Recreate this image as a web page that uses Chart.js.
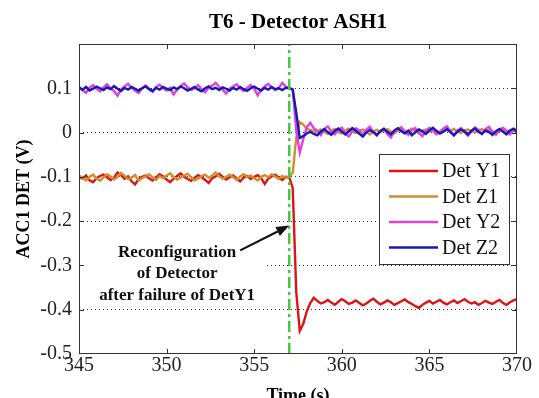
<!DOCTYPE html>
<html><head><meta charset="utf-8">
<script src="https://cdn.jsdelivr.net/npm/chart.js@4/dist/chart.umd.min.js"></script>
<style>html,body{margin:0;padding:0;background:#fff}canvas{display:block}</style>
</head><body>
<canvas id="c" width="539" height="398"></canvas>
<script>
// ---------- data ----------
const chartTitle = 'T6 - Detector ASH1';
const xTitle = 'Time (s)';
const yTitle = 'ACC1 DET (V)';
const xMin = 345, xMax = 370, xStep = 5;
const yMin = -0.5, yMax = 0.2, yStep = 0.1;
const sampleStart = 345, samplePeriod = 0.2, sampleCount = 126;
const time = Array.from({length: sampleCount}, (_, i) => Math.round((sampleStart + i * samplePeriod) * 10) / 10);

const seriesNames = ['Det Y1', 'Det Z1', 'Det Y2', 'Det Z2'];

const detY1 = [
-0.100,-0.104,-0.097,-0.108,-0.112,-0.103,-0.098,-0.095,-0.101,-0.107,
-0.102,-0.090,-0.096,-0.104,-0.099,-0.110,-0.117,-0.105,-0.100,-0.097,
-0.103,-0.108,-0.101,-0.094,-0.099,-0.106,-0.112,-0.104,-0.098,-0.092,
-0.100,-0.105,-0.109,-0.102,-0.096,-0.101,-0.107,-0.114,-0.103,-0.099,
-0.093,-0.100,-0.106,-0.101,-0.097,-0.104,-0.110,-0.102,-0.098,-0.105,
-0.100,-0.096,-0.103,-0.116,-0.104,-0.099,-0.095,-0.102,-0.107,-0.100,
-0.101,
-0.125,-0.360,-0.448,-0.432,-0.404,-0.385,-0.373,
-0.380,-0.386,-0.383,-0.378,-0.384,-0.389,-0.382,-0.376,-0.381,-0.387,
-0.384,-0.379,-0.385,-0.390,-0.386,-0.380,-0.375,-0.382,-0.388,-0.384,
-0.379,-0.383,-0.389,-0.385,-0.381,-0.377,-0.383,-0.387,-0.392,-0.396,
-0.389,-0.384,-0.380,-0.386,-0.382,-0.378,-0.384,-0.388,-0.383,-0.379,
-0.385,-0.381,-0.376,-0.382,-0.386,-0.383,-0.389,-0.385,-0.380,-0.384,
-0.387,-0.382,-0.378,-0.385,-0.389,-0.383,-0.379,-0.376];

const detZ1 = [
-0.097,-0.102,-0.108,-0.100,-0.095,-0.104,-0.109,-0.101,-0.094,-0.099,
-0.106,-0.100,-0.091,-0.098,-0.105,-0.102,-0.096,-0.108,-0.103,-0.099,
-0.094,-0.101,-0.107,-0.098,-0.103,-0.097,-0.092,-0.100,-0.106,-0.102,
-0.097,-0.093,-0.101,-0.108,-0.104,-0.098,-0.095,-0.102,-0.097,-0.090,
-0.099,-0.104,-0.100,-0.095,-0.101,-0.107,-0.099,-0.094,-0.100,-0.097,
-0.103,-0.108,-0.100,-0.096,-0.101,-0.094,-0.099,-0.105,-0.098,-0.102,
-0.100,
-0.090,-0.012,0.024,0.018,0.008,0.006,0.004,
0.003,0.007,0.002,-0.003,0.004,0.008,0.001,-0.002,0.005,0.009,
0.003,-0.001,0.004,0.007,0.002,-0.004,0.003,0.006,0.001,0.005,
0.008,0.002,-0.002,0.004,0.006,0.001,0.005,0.009,0.003,-0.001,
0.004,0.007,0.002,0.005,0.001,-0.003,0.003,0.006,0.004,0.008,
0.002,-0.001,0.005,0.007,0.003,0.000,0.004,0.008,0.002,0.006,
0.003,-0.002,0.004,0.007,0.001,0.005,0.003,0.006];

const detY2 = [
0.104,0.096,0.090,0.101,0.107,0.099,0.093,0.102,0.109,0.100,
0.094,0.083,0.098,0.104,0.110,0.101,0.095,0.089,0.100,0.106,
0.099,0.092,0.103,0.108,0.100,0.095,0.101,0.086,0.097,0.105,
0.111,0.102,0.096,0.100,0.107,0.098,0.091,0.101,0.106,0.112,
0.103,0.097,0.088,0.099,0.104,0.109,0.100,0.094,0.101,0.107,
0.099,0.084,0.097,0.104,0.110,0.102,0.096,0.101,0.112,0.104,
0.100,
0.098,0.005,-0.045,-0.015,0.012,0.022,0.010,
0.004,-0.006,0.008,0.014,0.002,-0.004,0.006,0.011,-0.002,-0.009,
0.003,0.010,0.005,-0.005,0.007,0.013,0.001,-0.007,0.004,0.009,
-0.003,-0.011,0.002,0.008,0.012,0.003,-0.005,0.006,0.010,-0.001,
-0.008,0.004,0.011,0.005,-0.004,0.002,0.009,0.014,0.003,-0.006,
0.005,0.010,0.001,-0.007,0.003,0.012,0.006,-0.003,0.008,0.013,
0.002,-0.005,0.006,0.011,0.004,-0.004,0.007,0.002];

const detZ2 = [
0.101,0.097,0.103,0.095,0.099,0.104,0.100,0.096,0.102,0.098,
0.105,0.099,0.094,0.101,0.097,0.103,0.099,0.095,0.100,0.104,
0.098,0.094,0.101,0.097,0.103,0.099,0.096,0.102,0.098,0.104,
0.100,0.095,0.099,0.103,0.097,0.093,0.100,0.104,0.098,0.101,
0.096,0.102,0.099,0.095,0.101,0.097,0.103,0.098,0.094,0.100,
0.104,0.099,0.095,0.101,0.097,0.103,0.098,0.100,0.096,0.101,
0.100,
0.097,0.045,-0.012,-0.008,-0.002,0.002,-0.003,
-0.006,0.002,0.008,0.001,-0.005,0.004,0.009,0.002,-0.004,0.003,
0.010,0.004,-0.003,-0.009,0.000,0.006,0.001,-0.005,0.003,0.008,
0.002,-0.004,0.005,0.010,0.003,-0.002,0.004,-0.006,0.001,0.007,
0.003,-0.003,0.005,0.011,0.004,-0.002,0.002,0.008,0.001,-0.006,
0.002,0.007,0.003,-0.004,0.004,0.009,0.002,-0.003,0.005,0.001,
-0.005,0.003,0.008,0.002,-0.004,0.005,0.009,0.003];

const failureTime = 357;
const annotationLines = ['Reconfiguration', 'of Detector', 'after failure of DetY1'];
const annotationAnchor = [350.6, -0.270];     // data coords of first text line centre
const arrowFrom = [354.2, -0.266];
const arrowTo = [357.0, -0.210];

// ---------- styles ----------
const serif = "'Liberation Serif', 'Times New Roman', serif";
const colors = ['#dd1414', '#cf8f2e', '#e040e0', '#1818b8'];

const mkSeries = (vals) => time.map((t, i) => ({x: t, y: vals[i]}));
const allSeries = [detY1, detZ1, detY2, detZ2];

const datasets = allSeries.map((v, k) => ({
  label: seriesNames[k], data: mkSeries(v), borderColor: colors[k],
  borderWidth: 2.4, pointRadius: 0, tension: 0, fill: false, order: 4 - k
}));
datasets.push({
  label: 'failure', data: [{x: failureTime, y: yMin}, {x: failureTime, y: yMax}],
  borderColor: '#3ccc3c', borderWidth: 2.5, borderDash: [11, 4, 3, 4],
  pointRadius: 0, order: 0
});

const decor = {
  id: 'decor',
  beforeDatasetsDraw(chart) {
    const {ctx} = chart;
    const xs = chart.scales.x, ys = chart.scales.y;
    ctx.save();
    ctx.fillStyle = '#fff';
    const cx = xs.getPixelForValue(annotationAnchor[0]);
    const cy = ys.getPixelForValue(annotationAnchor[1]);
    ctx.fillRect(cx - 90, cy - 18, 180, 70);
    ctx.restore();
  },
  afterDatasetsDraw(chart) {
    const {ctx, chartArea: a} = chart;
    const xs = chart.scales.x, ys = chart.scales.y;
    ctx.save();
    ctx.strokeStyle = '#333'; ctx.lineWidth = 1;
    ctx.strokeRect(a.left + 0.5, a.top + 0.5, a.right - a.left - 1, a.bottom - a.top - 1);
    ctx.beginPath();
    xs.ticks.forEach(t => {
      if (t.value <= xMin || t.value >= xMax) return;
      const p = Math.round(xs.getPixelForValue(t.value)) + 0.5;
      ctx.moveTo(p, a.bottom); ctx.lineTo(p, a.bottom - 5);
      ctx.moveTo(p, a.top); ctx.lineTo(p, a.top + 5);
    });
    ys.ticks.forEach(t => {
      if (t.value <= yMin + 1e-9 || t.value >= yMax - 1e-9) return;
      const p = Math.round(ys.getPixelForValue(t.value)) + 0.5;
      ctx.moveTo(a.left, p); ctx.lineTo(a.left + 5, p);
      ctx.moveTo(a.right, p); ctx.lineTo(a.right - 5, p);
    });
    ctx.stroke();

    const cx = xs.getPixelForValue(annotationAnchor[0]);
    const cy = ys.getPixelForValue(annotationAnchor[1]);
    ctx.fillStyle = '#111';
    ctx.font = 'bold 17px ' + serif;
    ctx.textAlign = 'center'; ctx.textBaseline = 'middle';
    annotationLines.forEach((s, i) => ctx.fillText(s, cx, cy + i * 21.5));

    const x0 = xs.getPixelForValue(arrowFrom[0]), y0 = ys.getPixelForValue(arrowFrom[1]);
    const x1 = xs.getPixelForValue(arrowTo[0]), y1 = ys.getPixelForValue(arrowTo[1]);
    const ang = Math.atan2(y1 - y0, x1 - x0);
    const hl = 13, hw = 5;
    const bx = x1 - hl * Math.cos(ang), by = y1 - hl * Math.sin(ang);
    ctx.strokeStyle = '#111'; ctx.lineWidth = 2.2;
    ctx.beginPath(); ctx.moveTo(x0, y0); ctx.lineTo(bx, by); ctx.stroke();
    ctx.beginPath();
    ctx.moveTo(x1, y1);
    ctx.lineTo(bx + hw * Math.sin(ang), by - hw * Math.cos(ang));
    ctx.lineTo(bx - hw * Math.sin(ang), by + hw * Math.cos(ang));
    ctx.closePath(); ctx.fillStyle = '#111'; ctx.fill();

    const lx = 379, ly = 154, lw = 130, lh = 110;
    ctx.fillStyle = '#fff';
    ctx.fillRect(lx, ly, lw, lh);
    ctx.strokeStyle = '#333'; ctx.lineWidth = 1;
    ctx.strokeRect(lx + 0.5, ly + 0.5, lw, lh);
    ctx.font = '20px ' + serif;
    ctx.textAlign = 'left'; ctx.textBaseline = 'middle';
    chart.data.datasets.slice(0, 4).forEach((ds, i) => {
      const yy = ly + 17 + i * 25.5;
      ctx.strokeStyle = ds.borderColor; ctx.lineWidth = 2.4;
      ctx.beginPath(); ctx.moveTo(lx + 10, yy); ctx.lineTo(lx + 59, yy); ctx.stroke();
      ctx.fillStyle = '#111';
      ctx.fillText(ds.label, lx + 63, yy + 1);
    });
    ctx.restore();
  },
  afterDraw(chart) {
    const {ctx, chartArea: a} = chart;
    ctx.save();
    ctx.fillStyle = '#000';
    ctx.font = 'bold 21px ' + serif;
    ctx.textAlign = 'center'; ctx.textBaseline = 'alphabetic';
    ctx.fillText(chartTitle, (a.left + a.right) / 2, 28);
    ctx.restore();
  }
};

new Chart(document.getElementById('c'), {
  type: 'line',
  data: {datasets},
  options: {
    responsive: false, animation: false, devicePixelRatio: 1,
    layout: {padding: {top: 44, right: 22, left: 0, bottom: 0}},
    plugins: {legend: {display: false}, tooltip: {enabled: false}, title: {display: false}},
    scales: {
      x: {
        type: 'linear', min: xMin, max: xMax,
        ticks: {stepSize: xStep, padding: 0, color: '#222', font: {family: serif, size: 20}, maxRotation: 0,
          callback: v => String(v)},
        grid: {display: false, drawTicks: false},
        border: {display: false},
        title: {display: true, text: xTitle, color: '#000', font: {family: serif, size: 18, weight: 'bold', lineHeight: 1}, padding: {top: 0, bottom: -7}},
        afterFit: s => { s.height = 44; }
      },
      y: {
        min: yMin, max: yMax,
        ticks: {stepSize: yStep, padding: 7, color: '#222', font: {family: serif, size: 20},
          callback: v => (Math.abs(v - yMax) < 1e-9) ? '' : (Math.abs(v) < 1e-9 ? '0' : v.toFixed(1))},
        grid: {drawTicks: false, lineWidth: 1,
          color: c => (c.tick && (Math.abs(c.tick.value - yMax) < 1e-9 || Math.abs(c.tick.value - yMin) < 1e-9)) ? 'rgba(0,0,0,0)' : '#333'},
        border: {display: false, dash: [1, 3]},
        title: {display: true, text: yTitle, color: '#000', font: {family: serif, size: 18, weight: 'bold'}, padding: {top: 14, bottom: 0}},
        afterFit: s => { s.width = 79; }
      }
    }
  },
  plugins: [decor]
});
</script>
</body></html>
